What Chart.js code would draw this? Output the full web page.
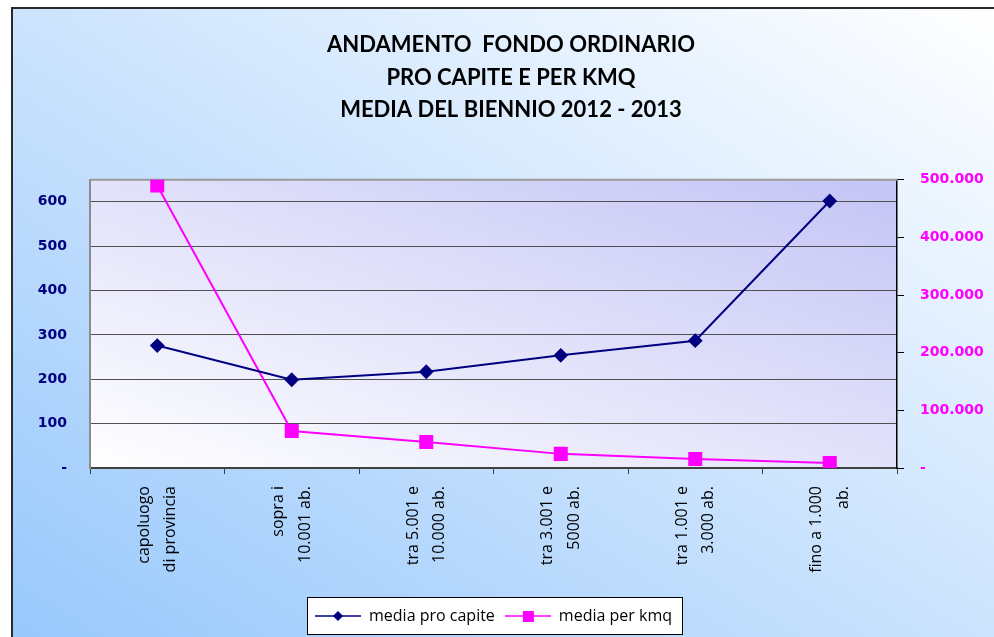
<!DOCTYPE html>
<html>
<head>
<meta charset="utf-8">
<script src="https://cdn.jsdelivr.net/npm/chart.js@4/dist/chart.umd.min.js"></script>
<style>
html, body { margin: 0; padding: 0; background: #fff; }
</style>
</head>
<body>
<canvas id="chart" width="994" height="637"></canvas>
<script>
// dati
const categories = [
    ['capoluogo', 'di provincia'],
    ['sopra i', '10.001 ab.'],
    ['tra 5.001 e', '10.000 ab.'],
    ['tra 3.001 e', '5000 ab.'],
    ['tra 1.001 e', '3.000 ab.'],
    ['fino a 1.000', 'ab.']
];
const mediaProCapite = [276, 199, 217, 254, 287, 602];
const mediaPerKmq = [490000, 64000, 45000, 24500, 15500, 8500];
const leftTicks = [0, 100, 200, 300, 400, 500, 600];
const rightTicks = [0, 100000, 200000, 300000, 400000, 500000];
const titleLines = ['ANDAMENTO  FONDO ORDINARIO', 'PRO CAPITE E PER KMQ', 'MEDIA DEL BIENNIO 2012 - 2013'];

const navy = '#000080';
const pink = '#ff00ff';

// icone della legenda: linea con marcatore al centro
function legendIcon(color, shape) {
    const c = document.createElement('canvas');
    c.width = 46;
    c.height = 14;
    const g = c.getContext('2d');
    g.strokeStyle = color;
    g.lineWidth = 1.5;
    g.beginPath();
    g.moveTo(0, 7);
    g.lineTo(46, 7);
    g.stroke();
    g.fillStyle = color;
    if (shape === 'diamond') {
        g.beginPath();
        g.moveTo(23, 2);
        g.lineTo(28, 7);
        g.lineTo(23, 12);
        g.lineTo(18, 7);
        g.closePath();
        g.fill();
    } else {
        g.fillRect(18, 2, 11, 11);
    }
    return c;
}
const legendIcons = [legendIcon(navy, 'diamond'), legendIcon(pink, 'square')];

// gradiente diagonale "alla Excel": da basso-sinistra ad alto-destra nel riquadro normalizzato
function diagGradient(ctx, left, top, right, bottom, from, to) {
    const w = right - left, h = bottom - top;
    const k = 2 / (1 / (w * w) + 1 / (h * h));
    const g = ctx.createLinearGradient(left, bottom, left + k / w, bottom - k / h);
    g.addColorStop(0, from);
    g.addColorStop(1, to);
    return g;
}

const backgrounds = {
    id: 'backgrounds',
    beforeDraw(chart) {
        const ctx = chart.ctx;
        const W = chart.width, H = chart.height;
        ctx.save();
        ctx.fillStyle = '#fff';
        ctx.fillRect(0, 0, W, H);
        // sfondo esterno
        ctx.fillStyle = diagGradient(ctx, 12, 8, W, H, '#98c8fc', '#ffffff');
        ctx.fillRect(12, 8, W - 12, H - 8);
        ctx.strokeStyle = '#2a2a2a';
        ctx.lineWidth = 2;
        ctx.beginPath();
        ctx.moveTo(12, H);
        ctx.lineTo(12, 8);
        ctx.lineTo(W, 8);
        ctx.stroke();
        // area del grafico
        const a = chart.chartArea;
        ctx.fillStyle = diagGradient(ctx, a.left, a.top, a.right, a.bottom, '#ffffff', '#c4c4f6');
        ctx.fillRect(a.left, a.top, a.right - a.left, a.bottom - a.top);
        // riquadro della legenda
        const hb = chart.legend.legendHitBoxes;
        if (hb && hb.length) {
            const last = hb[hb.length - 1];
            const l = hb[0].left - 8;
            const r = last.left + last.width + 10;
            const t = hb[0].top - 11;
            const b = hb[0].top + hb[0].height + 10;
            ctx.fillStyle = '#fff';
            ctx.fillRect(l, t, r - l, b - t);
            ctx.strokeStyle = '#000';
            ctx.lineWidth = 1;
            ctx.strokeRect(l + 0.5, t + 0.5, r - l, b - t);
        }
        ctx.restore();
    },
    beforeDatasetsDraw(chart) {
        const ctx = chart.ctx;
        const a = chart.chartArea;
        ctx.save();
        ctx.strokeStyle = '#9a9a9a';
        ctx.lineWidth = 2;
        ctx.beginPath();
        ctx.moveTo(a.left, a.top);
        ctx.lineTo(a.right, a.top);
        ctx.stroke();
        ctx.restore();
    }
};

const tickFont = { family: 'DejaVu Sans', size: 14, weight: 'bold' };

new Chart(document.getElementById('chart'), {
    type: 'line',
    data: {
        labels: categories,
        datasets: [{
            label: 'media pro capite',
            data: mediaProCapite,
            yAxisID: 'y',
            borderColor: navy,
            backgroundColor: navy,
            borderWidth: 2,
            pointStyle: 'rectRot',
            pointRadius: 6,
            tension: 0
        }, {
            label: 'media per kmq',
            data: mediaPerKmq,
            yAxisID: 'y1',
            borderColor: pink,
            backgroundColor: pink,
            borderWidth: 2,
            pointStyle: 'rect',
            pointRadius: 8.5,
            tension: 0
        }]
    },
    options: {
        responsive: false,
        animation: false,
        devicePixelRatio: 1,
        layout: { padding: { left: 28, right: 0, top: 0, bottom: 3 } },
        plugins: {
            title: {
                display: true,
                text: titleLines,
                color: '#000',
                font: { family: 'Lato', size: 22, weight: 'bold', lineHeight: 1.48 },
                padding: { top: 29, bottom: 53 }
            },
            legend: {
                position: 'bottom',
                fullSize: false,
                labels: {
                    usePointStyle: true,
                    pointStyleWidth: 46,
                    padding: 10,
                    color: '#000',
                    font: { family: 'Open Sans', size: 16 },
                    generateLabels(chart) {
                        const items = Chart.defaults.plugins.legend.labels.generateLabels(chart);
                        items.forEach((it, i) => { it.pointStyle = legendIcons[i]; });
                        return items;
                    }
                }
            },
            tooltip: { enabled: false }
        },
        scales: {
            x: {
                offset: true,
                grid: { offset: true, drawOnChartArea: false, drawTicks: true, tickLength: 6, color: '#404040' },
                border: { color: '#404040', width: 2 },
                ticks: {
                    autoSkip: false,
                    maxRotation: 90,
                    minRotation: 90,
                    padding: 12,
                    labelOffset: -13,
                    color: '#000',
                    font: { family: 'Open Sans', size: 16, lineHeight: 1.65 }
                },
                afterFit(s) { s.height = 130; }
            },
            y: {
                position: 'left',
                min: 0,
                max: 650,
                afterBuildTicks(axis) { axis.ticks = leftTicks.map(v => ({ value: v })); },
                grid: { color: '#505050', drawTicks: false },
                border: { color: '#8c8c8c', width: 2 },
                ticks: {
                    color: navy,
                    font: tickFont,
                    padding: 23,
                    callback: v => v === 0 ? '-' : String(v)
                },
                afterFit(s) { s.width = 62; }
            },
            y1: {
                position: 'right',
                min: 0,
                max: 500000,
                afterBuildTicks(axis) { axis.ticks = rightTicks.map(v => ({ value: v })); },
                grid: { drawOnChartArea: false, color: '#000', tickLength: 7 },
                border: { color: '#000', width: 1.5 },
                ticks: {
                    color: pink,
                    font: tickFont,
                    padding: 16,
                    callback: v => v === 0 ? '-' : (v / 1000) + '.000'
                },
                afterFit(s) { s.width = 97; }
            }
        }
    },
    plugins: [backgrounds]
});
</script>
</body>
</html>
